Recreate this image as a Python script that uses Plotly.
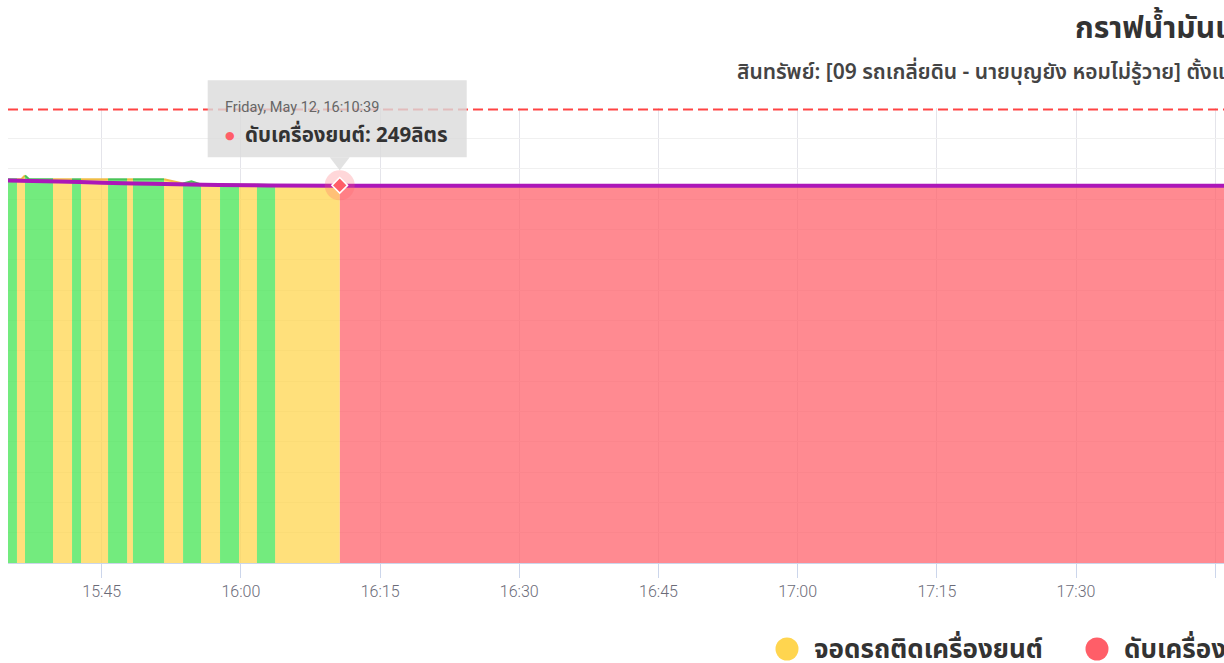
import numpy as np
import pandas as pd
import plotly.graph_objects as go

DAY = "2023-05-12"

# ---- status segments (each lasts until next start) ----
SEG_START = ["15:34:54", "15:35:52", "15:36:44", "15:39:45", "15:41:48", "15:42:46",
             "15:45:41", "15:47:44", "15:48:22", "15:51:43", "15:53:46", "15:55:42",
             "15:57:45", "15:59:48", "16:01:44", "16:03:41", "16:10:39"]
SEG_STATUS = ["run", "idle", "run", "idle", "run", "idle", "run", "idle", "run", "idle",
              "run", "idle", "run", "idle", "run", "idle", "off"]
DATA_END = "17:52:00"

# ---- raw fuel readings (litres) ----
RAW_T = ["15:34:54", "15:36:20", "15:36:44", "15:37:10", "15:51:43", "15:53:46",
         "15:54:40", "15:55:42", "16:10:39", "17:52:00"]
RAW_L = [253.0, 253.0, 255.5, 253.0, 253.0, 250.2, 251.6, 249.6, 249.0, 249.0]

# ---- smoothed fuel line (litres) ----
SMOOTH_T = ["15:34:54", "15:40:18", "15:45:00", "15:50:27", "15:55:52", "16:01:15",
            "16:10:39", "17:52:00"]
SMOOTH_L = [252.2, 251.6, 250.7, 250.0, 249.4, 249.0, 248.8, 248.8]

CAPACITY = 299
Y_MAX = 300
Y_DTICK = 20
X_MIN, X_MAX = "15:34:54", "17:45:57"
TICK0 = "15:45:00"

HOVER_T = "16:10:39"
HOVER_VALUE = 249
HOVER_STATUS = "off"

STATUS_LABEL = {"run": "วิ่ง", "idle": "จอดรถติดเครื่องยนต์", "off": "ดับเครื่องยนต์"}
FILL = {"run": "rgba(76,230,90,0.78)", "idle": "rgba(255,213,79,0.75)",
        "off": "rgba(255,94,104,0.73)"}
LINE = {"run": "#49c457", "idle": "#f0bd45", "off": "#ff7c84"}
SOLID = {"run": "#4ce65a", "idle": "#ffd54f", "off": "#ff5e68"}
PURPLE = "#ac17b8"

TITLE = "กราฟน้ำมันเชื้อเพลิง"
SUBTITLE = "สินทรัพย์: [09 รถเกลี่ยดิน - นายบุญยัง หอมไม่รู้วาย] ตั้งแต่วันที่ 12/05/2023"
LEGEND_ITEMS = ["idle", "off"]

THAI = "Noto Sans Thai, Noto Sans Thai UI, Tahoma, sans-serif"

W, H = 1224, 663
ML, MR, MT, MB = 8, 0, 108, 100
PW, PH = W - ML - MR, H - MT - MB


def ts(s):
    return pd.Timestamp(f"{DAY} {s}")


def px(x):
    return (x - ML) / PW


def py(y):
    return (H - MB - y) / PH


raw_ms = np.array([ts(t).value for t in RAW_T], dtype=float)
raw_l = np.array(RAW_L)


def fuel_at(t):
    return float(np.interp(ts(t).value, raw_ms, raw_l))


fig = go.Figure()

ends = SEG_START[1:] + [DATA_END]
for status in ["off", "idle", "run"]:
    ax, ay, lx, ly = [], [], [], []
    for s0, s1, st in zip(SEG_START, ends, SEG_STATUS):
        if st != status:
            continue
        t0v, t1v = ts(s0).value, ts(s1).value
        inner = [(ts(t), v) for t, v in zip(RAW_T, RAW_L) if t0v < ts(t).value < t1v]
        top_x = [ts(s0)] + [p[0] for p in inner] + [ts(s1)]
        top_y = [fuel_at(s0)] + [p[1] for p in inner] + [fuel_at(s1)]
        ax += [ts(s0)] + top_x + [ts(s1), ts(s0), None]
        ay += [0] + top_y + [0, 0, None]
        lx += top_x + [None]
        ly += top_y + [None]
    fig.add_trace(go.Scatter(x=ax, y=ay, mode="lines", fill="toself",
                             fillcolor=FILL[status], line=dict(width=0),
                             hoverinfo="skip", name=STATUS_LABEL[status]))
    fig.add_trace(go.Scatter(x=lx, y=ly, mode="lines",
                             line=dict(width=2, color=LINE[status]),
                             hoverinfo="skip", showlegend=False))

fig.add_trace(go.Scatter(x=[ts(t) for t in SMOOTH_T], y=SMOOTH_L, mode="lines",
                         line=dict(width=4, color=PURPLE, shape="spline"),
                         hoverinfo="skip"))

# hover marker (halo + diamond)
fig.add_trace(go.Scatter(x=[ts(HOVER_T)], y=[HOVER_VALUE], mode="markers",
                         marker=dict(size=30, color=SOLID[HOVER_STATUS], opacity=0.25),
                         hoverinfo="skip", cliponaxis=False))
fig.add_trace(go.Scatter(x=[ts(HOVER_T)], y=[HOVER_VALUE], mode="markers",
                         marker=dict(size=12, symbol="diamond", color=SOLID[HOVER_STATUS],
                                     line=dict(color="white", width=1.5)),
                         hoverinfo="skip", cliponaxis=False))

shapes = [
    dict(type="line", xref="paper", x0=0, x1=1, yref="y", y0=CAPACITY, y1=CAPACITY,
         line=dict(color="#ff4444", width=2, dash="10px,5px"), layer="above"),
    # tooltip box
    dict(type="rect", xref="x", xsizemode="pixel", xanchor=ts(HOVER_T), x0=-132, x1=127,
         yref="paper", ysizemode="pixel", yanchor=HOVER_VALUE / Y_MAX, y0=28, y1=105,
         fillcolor="rgba(219,219,219,0.8)", line=dict(width=0), layer="above"),
    dict(type="path", xref="x", xsizemode="pixel", xanchor=ts(HOVER_T),
         yref="paper", ysizemode="pixel", yanchor=HOVER_VALUE / Y_MAX,
         path="M -10,28 L 10,28 L 0,15 Z",
         fillcolor="rgba(219,219,219,0.8)", line=dict(width=0), layer="above"),
]

annotations = [
    dict(xref="paper", yref="paper", x=px(1073), y=py(29), xanchor="left", yanchor="middle",
         text=f"<b>{TITLE}</b>", showarrow=False,
         font=dict(family=THAI, size=30, color="#333333")),
    dict(xref="paper", yref="paper", x=px(735), y=py(72), xanchor="left", yanchor="middle",
         text=SUBTITLE, showarrow=False,
         font=dict(family=THAI, size=21, color="#444444", weight=600)),
    dict(xref="x", yref="y", x=ts(HOVER_T), y=HOVER_VALUE, xshift=-117, yshift=78,
         xanchor="left", yanchor="middle", showarrow=False,
         text=ts(HOVER_T).strftime("%A, %b %d, %H:%M:%S"),
         font=dict(family="Roboto", size=14.5, color="#666666")),
    dict(xref="x", yref="y", x=ts(HOVER_T), y=HOVER_VALUE, xshift=-110, yshift=50,
         xanchor="center", yanchor="middle", showarrow=False, text="●",
         font=dict(family="DejaVu Sans", size=11, color=SOLID[HOVER_STATUS])),
    dict(xref="x", yref="y", x=ts(HOVER_T), y=HOVER_VALUE, xshift=-97, yshift=50,
         xanchor="left", yanchor="middle", showarrow=False,
         text=f"<b>{STATUS_LABEL[HOVER_STATUS]}: {HOVER_VALUE}ลิตร</b>",
         font=dict(family=THAI, size=20.5, color="#333333")),
]

legend_x = [787, 1097]
for st, cx in zip(LEGEND_ITEMS, legend_x):
    shapes.append(dict(type="circle", xref="paper", yref="paper", xsizemode="pixel",
                       ysizemode="pixel", xanchor=px(cx), yanchor=py(649),
                       x0=-11.5, x1=11.5, y0=-11.5, y1=11.5,
                       fillcolor=SOLID[st], line=dict(width=0)))
    annotations.append(dict(xref="paper", yref="paper", x=px(cx + 25), y=py(650),
                            xanchor="left", yanchor="middle", showarrow=False,
                            text=f"<b>{STATUS_LABEL[st]}</b>",
                            font=dict(family=THAI, size=26, color="#333333")))

fig.update_layout(
    width=W, height=H, margin=dict(l=ML, r=MR, t=MT, b=MB),
    plot_bgcolor="white", paper_bgcolor="white", showlegend=False, hovermode=False,
    shapes=shapes, annotations=annotations,
    xaxis=dict(type="date", range=[ts(X_MIN), ts(X_MAX)], dtick=15 * 60 * 1000,
               tick0=ts(TICK0), tickformat="%H:%M", showgrid=True, gridcolor="#e4e4ea",
               gridwidth=1, showline=True, linecolor="#ccd6eb", linewidth=1,
               ticks="outside", ticklen=14, tickcolor="#ccd6eb", zeroline=False,
               tickfont=dict(family="Roboto", size=16, color="#6b6b78", weight=300)),
    yaxis=dict(range=[0, Y_MAX], dtick=Y_DTICK, showgrid=True, gridcolor="#f0f0f0",
               showticklabels=False, zeroline=False, showline=False, ticks=""),
)

fig.write_html("out.html", config={"displayModeBar": False},
               post_script="document.body.style.margin='0';")
